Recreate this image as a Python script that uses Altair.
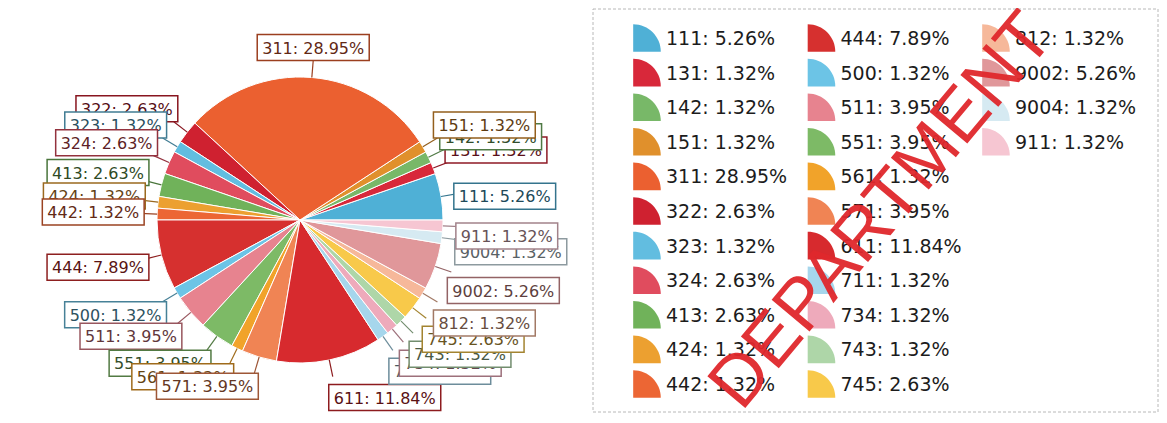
import math
import altair as alt
import pandas as pd

# ---- data ----
codes = ["111", "131", "142", "151", "311", "322", "323", "324", "413", "424", "442",
         "444", "500", "511", "551", "561", "571", "611", "711", "734", "743", "745",
         "812", "9002", "9004", "911"]
pcts = [5.26, 1.32, 1.32, 1.32, 28.95, 2.63, 1.32, 2.63, 2.63, 1.32, 1.32,
        7.89, 1.32, 3.95, 3.95, 1.32, 3.95, 11.84, 1.32, 1.32, 1.32, 2.63,
        1.32, 5.26, 1.32, 1.32]
palette = ["#4fb0d6", "#d8283a", "#78b868", "#e0902c", "#eb6030", "#cf2130", "#62bde0",
           "#e04c5e", "#70b25a", "#eca030", "#ec6634", "#d6302f", "#6cc4e6", "#e7838f",
           "#7dba66", "#f1a32a", "#f08454", "#d72a2e", "#a6d6ec", "#eeaabb", "#aed6a8",
           "#f8c94a", "#f6b89a", "#e0979a", "#d6eaf2", "#f6c6d2"]

# ---- layout constants ----
W, H = 1151, 405
CX, CY = 292, 212
R = 143
RL = 160
BOX_H = 26
LBL_FS = 16
LEG_FS = 19
CHAR_W = {":": 0.337, " ": 0.318, ".": 0.318, "%": 0.95}


def text_w(s, fs):
    return sum(CHAR_W.get(c, 0.636) for c in s) * fs


def shade(hexc, f):
    r, g, b = (int(hexc[i:i + 2], 16) for i in (1, 3, 5))
    return "#%02x%02x%02x" % (int(r * f), int(g * f), int(b * f))


rows = []
total = sum(pcts)
cum = 0.0
for i, (c, p, col) in enumerate(zip(codes, pcts, palette)):
    a0 = cum / total * 360
    cum += p
    a1 = cum / total * 360
    mid = math.radians((a0 + a1) / 2)
    co, si = math.cos(mid), math.sin(mid)
    label = f"{c}: {p:.2f}%"
    w = text_w(label, LBL_FS) + 10
    ax, ay = CX + RL * co, CY - RL * si
    if abs(co) < 0.15:
        bx0 = ax - w / 2
    elif co > 0:
        bx0 = ax - 4
    else:
        bx0 = ax - w + 4
    s = max(-1.0, min(1.0, si * 2.5))
    bcy = ay - s * BOX_H / 2
    if co > 0.15 and si < 0.3:
        bcy += 8
    colx, rowy = i // 11, i % 11
    lx = 639 + colx * 174.5
    ly = 30 + rowy * 34.6
    rows.append(dict(
        idx=i, code=c, pct=p, label=label, cx=CX, cy=CY,
        ex=CX + R * co, ey=CY - R * si, ax=ax, ay=ay,
        bx0=bx0, bx1=bx0 + w, by0=bcy - BOX_H / 2, by1=bcy + BOX_H / 2,
        tx=bx0 + w / 2, ty=bcy,
        border=shade(col, 0.66), tcol=shade(col, 0.42),
        lx=lx, ly=ly, ltx=lx + 19,
    ))
df = pd.DataFrame(rows)

xs = alt.Scale(domain=[0, W], nice=False, zero=False)
ys = alt.Scale(domain=[0, H], nice=False, zero=False, reverse=True)
cscale = alt.Scale(domain=codes, range=palette)

base = alt.Chart(df)

pie = base.mark_arc(radius=R, stroke="white", strokeWidth=1).encode(
    x=alt.X("cx:Q", scale=xs, axis=None),
    y=alt.Y("cy:Q", scale=ys, axis=None),
    theta=alt.Theta("pct:Q", stack=True,
                    scale=alt.Scale(range=[math.pi / 2, math.pi / 2 + 2 * math.pi])),
    order=alt.Order("idx:Q", sort="descending"),
    color=alt.Color("code:N", scale=cscale, legend=None),
)

lines = base.mark_rule(strokeWidth=1.2).encode(
    x=alt.X("ex:Q", scale=xs, axis=None), y=alt.Y("ey:Q", scale=ys, axis=None),
    x2="ax:Q", y2="ay:Q",
    stroke=alt.Stroke("border:N", scale=None),
)

layers = [pie, lines]
for i in range(len(codes)):
    sub = base.transform_filter(alt.datum.idx == i)
    layers.append(sub.mark_rect(fill="white", strokeWidth=1.5).encode(
        x=alt.X("bx0:Q", scale=xs, axis=None), x2="bx1:Q",
        y=alt.Y("by0:Q", scale=ys, axis=None), y2="by1:Q",
        stroke=alt.Stroke("border:N", scale=None),
    ))
    layers.append(sub.mark_text(font="DejaVu Sans", fontSize=LBL_FS, align="center",
                                baseline="middle", dy=1).encode(
        x=alt.X("tx:Q", scale=xs, axis=None), y=alt.Y("ty:Q", scale=ys, axis=None),
        text="label:N",
        fill=alt.Fill("tcol:N", scale=None),
    ))

frame = base.mark_rect(filled=False, stroke="#b8b8b8", strokeWidth=1,
                       strokeDash=[3, 2]).encode(
    x=alt.value(585), x2=alt.value(1150), y=alt.value(1), y2=alt.value(404),
).transform_filter(alt.datum.idx == 0)

icon_path = "M -1 1 L -1 -1 A 2 2 0 0 1 1 1 Z"
leg_icons = base.mark_point(shape=icon_path, filled=True, size=760, opacity=1).encode(
    x=alt.X("lx:Q", scale=xs, axis=None), y=alt.Y("ly:Q", scale=ys, axis=None),
    color=alt.Color("code:N", scale=cscale, legend=None),
)
leg_text = base.mark_text(font="DejaVu Sans", fontSize=LEG_FS, align="left",
                          baseline="middle", color="#1c1c1c", dy=1).encode(
    x=alt.X("ltx:Q", scale=xs, axis=None), y=alt.Y("ly:Q", scale=ys, axis=None),
    text="label:N",
)

stamp = alt.Chart(pd.DataFrame({"t": ["DEPARTMENT"]})).mark_text(
    font="Liberation Sans", fontSize=72, angle=310, align="center",
    baseline="middle", color="#e0282c", opacity=0.95,
).encode(x=alt.value(874), y=alt.value(203), text="t:N")

layers += [frame, leg_icons, leg_text, stamp]

chart = alt.layer(*layers).properties(
    width=W, height=H, padding=0, autosize=alt.AutoSizeParams(type="none")
).configure_view(stroke=None)

chart.save("out.html", embed_options={"renderer": "svg", "actions": False})
